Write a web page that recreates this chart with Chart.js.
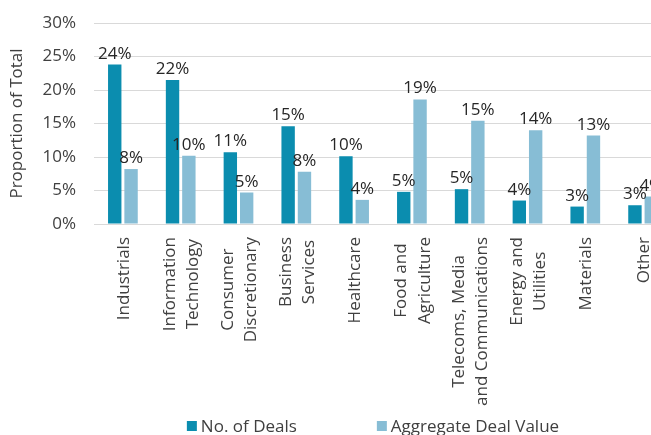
<!DOCTYPE html>
<html>
<head>
<meta charset="utf-8">
<script src="https://cdn.jsdelivr.net/npm/chart.js@4.4.1/dist/chart.umd.min.js"></script>
<style>
  html, body { margin: 0; padding: 0; background: #fff; overflow: hidden; }
  .deal-chart { position: relative; width: 750px; height: 435px; }
</style>
</head>
<body>
<div class="deal-chart"><canvas id="chart"></canvas></div>
<script>
const categories = [
    ['Industrials'],
    ['Information', 'Technology'],
    ['Consumer', 'Discretionary'],
    ['Business', 'Services'],
    ['Healthcare'],
    ['Food and', 'Agriculture'],
    ['Telecoms, Media', 'and Communications'],
    ['Energy and', 'Utilities'],
    ['Materials'],
    ['Other']
]
const seriesNames = ['No. of Deals', 'Aggregate Deal Value']
const noOfDeals = [23.8, 21.5, 10.7, 14.6, 10.1, 4.8, 5.2, 3.5, 2.6, 2.8]
const aggregateDealValue = [8.2, 10.2, 4.7, 7.8, 3.6, 18.6, 15.4, 14.0, 13.2, 4.1]
const yTicks = [0, 5, 10, 15, 20, 25, 30]

const darkBlue = '#0b8daf', lightBlue = '#87bdd5'
const axisText = '#404040', labelText = '#262626'
const fontFamily = "'Open Sans', sans-serif"

Chart.defaults.font.family = fontFamily
Chart.defaults.font.size = 17
Chart.defaults.color = axisText

const valueLabels = {
    id: 'valueLabels',
    afterDatasetsDraw(chart) {
        const ctx = chart.ctx
        ctx.save()
        ctx.font = '17px ' + fontFamily
        ctx.fillStyle = labelText
        ctx.textAlign = 'center'
        ctx.textBaseline = 'alphabetic'
        chart.data.datasets.forEach((ds, i) => {
            chart.getDatasetMeta(i).data.forEach((bar, j) => {
                ctx.fillText(Math.round(ds.data[j]) + '%', bar.x, bar.y - 6)
            })
        })
        ctx.restore()
    }
}

// rotated category labels, lines centred on each other
const categoryLabels = {
    id: 'categoryLabels',
    afterDraw(chart) {
        const ctx = chart.ctx, x = chart.scales.x
        const lineHeight = 23.5, capHalf = 6, gap = 13
        ctx.save()
        ctx.font = '17px ' + fontFamily
        ctx.fillStyle = axisText
        ctx.textAlign = 'center'
        ctx.textBaseline = 'alphabetic'
        categories.forEach((lines, i) => {
            const px = x.getPixelForTick(i)
            const maxW = Math.max(...lines.map(l => ctx.measureText(l).width))
            ctx.save()
            ctx.translate(px, chart.chartArea.bottom)
            ctx.rotate(-Math.PI / 2)
            lines.forEach((line, k) => {
                const off = (k - (lines.length - 1) / 2) * lineHeight + capHalf
                ctx.fillText(line, -(gap + maxW / 2), off)
            })
            ctx.restore()
        })
        ctx.restore()
    }
}

const bottomLegend = {
    id: 'bottomLegend',
    afterDraw(chart) {
        const ctx = chart.ctx
        const box = 10, boxGap = 4, itemGap = 80, cy = 426
        ctx.save()
        ctx.font = '17px ' + fontFamily
        ctx.textBaseline = 'middle'
        ctx.textAlign = 'left'
        const items = chart.data.datasets.map(ds => ({
            text: ds.label, color: ds.backgroundColor,
            w: box + boxGap + ctx.measureText(ds.label).width
        }))
        const total = items.reduce((s, it) => s + it.w, 0) + itemGap * (items.length - 1)
        let cx = chart.width / 2 - total / 2 - 2
        items.forEach(it => {
            ctx.fillStyle = it.color
            ctx.fillRect(cx, cy - box / 2, box, box)
            ctx.fillStyle = axisText
            ctx.fillText(it.text, cx + box + boxGap, cy + 1)
            cx += it.w + itemGap
        })
        ctx.restore()
    }
}

new Chart(document.getElementById('chart'), {
    type: 'bar',
    data: {
        labels: categories,
        datasets: [
            {label: seriesNames[0], data: noOfDeals, backgroundColor: darkBlue},
            {label: seriesNames[1], data: aggregateDealValue, backgroundColor: lightBlue}
        ]
    },
    options: {
        responsive: true,
        maintainAspectRatio: false,
        animation: false,
        categoryPercentage: 0.565,
        barPercentage: 0.82,
        layout: {padding: {top: 23, right: 78, bottom: 0, left: 0}},
        plugins: {
            legend: {display: false},
            tooltip: {enabled: false}
        },
        scales: {
            x: {
                grid: {display: false},
                border: {display: true, color: '#d9d9d9'},
                ticks: {display: false},
                afterFit: s => { s.height = 211 }
            },
            y: {
                min: 0,
                max: 30,
                afterBuildTicks: s => { s.ticks = yTicks.map(v => ({value: v})) },
                afterFit: s => {
                    s.width = 94
                    s.paddingTop = 0
                    s.paddingBottom = 0
                },
                grid: {color: '#d9d9d9', drawTicks: false},
                border: {display: false},
                ticks: {padding: 18, color: axisText, callback: v => v + '%'},
                title: {
                    display: true,
                    text: 'Proportion of Total',
                    color: axisText,
                    font: {size: 17},
                    padding: {top: 7, bottom: 0}
                }
            }
        }
    },
    plugins: [valueLabels, categoryLabels, bottomLegend]
})
</script>
</body>
</html>
